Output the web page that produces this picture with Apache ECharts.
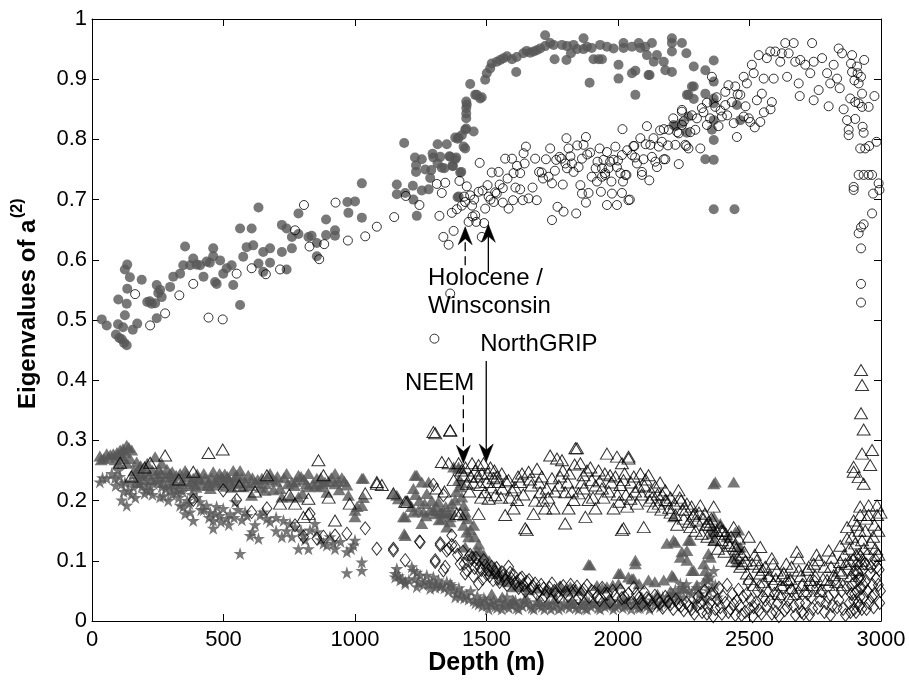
<!DOCTYPE html>
<html>
<head>
<meta charset="utf-8">
<script src="https://cdn.jsdelivr.net/npm/echarts@6/dist/echarts.min.js"></script>
<style>
html,body{margin:0;padding:0;background:#fff;}
#chart{width:909px;height:682px;}
</style>
</head>
<body>
<div id="chart"></div>
<script>
// ---------- tick labels ----------
const xTicks = [0, 500, 1000, 1500, 2000, 2500, 3000];
const yTicks = ['0','0.1','0.2','0.3','0.4','0.5','0.6','0.7','0.8','0.9','1'];

// ---------- NEEM largest eigenvalue (filled circles) [depth, value] ----------
const neemMax = [
[37,.501],[56,.491],[91,.476],[104,.470],[113,.468],[122,.462],[132,.458],[99,.493],[118,.488],[155,.484],[172,.494],[125,.508],[132,.527],[100,.534],[134,.552],[144,.571],[125,.584],[134,.592],[189,.567],[210,.530],[227,.527],[246,.558],[259,.550],[265,.538],[240,.528],[220,.531],[246,.503],[252,.545],[297,.555],[309,.572],[335,.577],[347,.591],[354,.622],[373,.591],[385,.602],[398,.592],[411,.591],[424,.572],[436,.597],[448,.595],[461,.619],[461,.606],[468,.563],[474,.560],[487,.599],[499,.577],[512,.586],[531,.591],[537,.558],[563,.652],[563,.525],[575,.605],[588,.621],[607,.652],[613,.624],[633,.687],[633,.594],[651,.613],[651,.580],[677,.619],[677,.595],[722,.658],[740,.652],[722,.613],[740,.584],[760,.638],[760,.619],[785,.677],[785,.643],[823,.638],[835,.640],[855,.628],[855,.606],[890,.667],[890,.641],[924,.649],[924,.640],[975,.678],[971,.696],[1000,.697],[1026,.670],[1026,.727],
[1159,.725],[1159,.709],[1187,.794],[1191,.711],[1220,.723],[1222,.700],[1235,.673],[1228,.770],[1232,.757],[1232,.746],[1254,.767],[1254,.715],[1267,.750],[1280,.717],[1286,.736],[1295,.776],[1298,.770],[1290,.749],[1314,.760],[1324,.771],[1314,.792],[1330,.753],[1340,.752],[1362,.771],[1371,.756],[1381,.767],[1390,.801],[1390,.704],[1400,.745],[1349,.792],[1359,.772],[1372,.756],[1385,.770],[1394,.705],[1404,.746],[1419,.785],[1394,.803],[1406,.807],[1419,.816],[1423,.835],[1423,.843],[1423,.852],[1423,.863],[1425,.858],[1413,.788],[1451,.813],[1423,.818],[1381,.803],
[1438,.892],[1457,.874],[1463,.874],[1482,.870],[1476,.868],[1495,.899],[1501,.910],[1514,.918],[1520,.926],[1539,.929],[1552,.932],[1565,.935],[1578,.938],[1597,.933],[1613,.912],[1615,.937],[1640,.943],[1653,.947],[1666,.944],[1679,.946],[1691,.948],[1704,.951],[1723,.973],[1723,.955],[1742,.960],[1755,.957],[1759,.933],[1787,.957],[1806,.955],[1804,.932],[1821,.943],[1831,.957],[1844,.950],[1869,.968],[1869,.950],[1892,.894],[1882,.954],[1907,.933],[1900,.952],[1926,.933],[1932,.957],[1958,.954],[1939,.933],[1983,.951],[2021,.960],[2021,.952],[2053,.954],[2002,.924],[2002,.901],[2053,.910],[2066,.874],[2066,.914],[2079,.960],[2085,.952],[2110,.940],[2104,.954],[2129,.960],[2116,.907],[2120,.907],[2136,.929],[2148,.940],[2174,.929],[2180,.915],[2205,.912],[2205,.968],[2205,.960],[2205,.946],[2243,.960],[2260,.943],[2288,.921],[2268,.874],[2262,.874],[2281,.888],[2288,.888],[2288,.867],[2332,.915],[2332,.876],[2364,.931],[2364,.896],[2364,.868],[2364,.860],[2268,.838],[2243,.827],[2218,.822],[2211,.824],[2262,.811],[2357,.816],[2364,.832],[2364,.799],[2332,.767],[2364,.766],[2364,.684],[2443,.684],[2452,.857],[2465,.832]
];

// ---------- NorthGRIP largest eigenvalue (open circles) ----------
const ngripMax = [
[164,.543],[221,.491],[278,.511],[332,.541],[385,.560],[443,.504],[497,.501],[550,.577],[607,.586],[661,.576],[715,.584],[772,.649],[806,.691],[827,.622],[864,.601],[883,.626],[926,.695],[973,.632],[1039,.639],[1083,.655],[1149,.671],[1193,.706],[1245,.691],[1302,.469],[1362,.544],
[1311,.726],[1321,.673],[1330,.711],[1336,.638],[1343,.728],[1356,.625],[1368,.678],[1375,.648],[1387,.684],[1397,.731],[1406,.690],[1419,.696],[1425,.722],[1432,.663],[1438,.707],[1447,.672],[1453,.700],[1457,.674],[1461,.663],[1470,.713],[1474,.761],[1482,.638],[1491,.661],[1495,.685],[1504,.724],[1508,.705],[1520,.745],[1527,.696],[1533,.712],[1539,.710],[1546,.746],[1562,.719],[1562,.695],[1571,.768],[1584,.685],[1597,.768],[1603,.744],[1601,.699],[1616,.756],[1628,.744],[1628,.717],[1641,.777],[1650,.788],[1638,.699],[1660,.702],[1685,.768],[1691,.699],[1700,.746],[1710,.745],[1726,.767],[1736,.738],[1742,.785],[1749,.727],[1749,.666],[1765,.766],[1770,.688],[1778,.771],[1785,.768],[1793,.680],[1800,.760],[1804,.802],[1806,.752],[1812,.785],[1819,.772],[1831,.746],[1841,.677],[1850,.754],[1857,.724],[1863,.710],[1863,.768],[1869,.791],[1878,.804],[1878,.695],[1883,.775],[1888,.711],[1894,.778],[1900,.738],[1920,.730],[1922,.763],[1935,.713],[1939,.752],[1939,.738],[1945,.766],[1951,.741],[1951,.744],[1958,.691],[1958,.779],[1964,.752],[1970,.763],[1977,.710],[1983,.766],[1990,.788],[1996,.754],[1996,.691],[2009,.744],[2015,.774],[2015,.711],[2017,.817],[2019,.730],[2028,.741],[2032,.741],[2040,.699],[2045,.700],[2053,.774],[2059,.789],[2062,.789],[2072,.760],[2085,.802],[2091,.746],[2091,.741],[2097,.767],[2110,.822],[2119,.732],[2123,.791],[2129,.771],[2142,.763],[2148,.754],[2155,.788],[2167,.796],[2174,.767],[2174,.817],[2180,.767],[2193,.816],[2218,.791],[2231,.759],[2231,.810],[2243,.849],[2243,.824],[2243,.846],[2256,.791],[2260,.789],[2268,.785],[2281,.840],[2294,.816],[2313,.785],[2319,.852],[2338,.824],[2338,.861],[2357,.904],[2370,.854],[2382,.822],[2395,.838],[2408,.857],[2408,.879],[2420,.890],[2433,.862],[2440,.827],[2446,.888],[2452,.804],[2465,.874],[2478,.904],[2478,.838],[2490,.893],[2497,.835],[2503,.829],[2509,.924],[2516,.910],[2520,.820],[2528,.865],[2535,.940],[2541,.829],[2547,.876],[2554,.901],[2555,.845],[2566,.935],[2579,.946],[2580,.850],[2585,.862],[2592,.901],[2598,.946],[2617,.929],[2623,.943],[2636,.960],[2643,.904],[2649,.943],[2668,.960],[2674,.929],[2687,.893],[2691,.872],[2693,.932],[2712,.924],[2731,.910],[2738,.960],[2744,.929],[2744,.865],[2763,.882],[2776,.935],[2795,.910],[2801,.855],[2807,.893],[2820,.924],[2833,.901],[2839,.951],[2843,.885],[2852,.943],[2858,.850],[2871,.832],[2877,.816],[2877,.807],[2883,.868],[2886,.926],[2890,.940],[2890,.912],[2899,.898],[2902,.862],[2902,.834],[2909,.921],[2911,.910],[2915,.893],[2915,.860],[2921,.785],[2924,.904],[2928,.876],[2928,.854],[2930,.821],[2934,.811],[2936,.932],[2940,.785],[2953,.854],[2955,.789],[2975,.872],[2983,.796],[2896,.721],[2896,.716],[2915,.741],[2934,.741],[2953,.741],[2966,.741],[2970,.710],[2991,.727],[2994,.716],[2966,.677],[2934,.659],[2924,.654],[2915,.644],[2924,.619],[2924,.560],[2924,.529],
[1415,.705],[1445,.690],[1485,.715],[1515,.700],[1550,.725],[1580,.735],[1610,.720],[1645,.760],[1675,.720],[1715,.735],[1760,.748],[1790,.725],[1825,.760],[1845,.790],[1915,.752],[1930,.785],[1975,.730],[2000,.765],[2035,.782],[2065,.770],[2105,.792],[2135,.802],[2160,.815],[2190,.790],[2210,.835],[2225,.812],[2250,.830],[2275,.812],[2300,.835],[2325,.845],[2350,.835],[2375,.870],[2390,.848],[2415,.840],[2455,.875],[2485,.855]
];

// ---------- NEEM middle eigenvalue (filled triangles) ----------
const neemMid = [
[30,.274],[45,.270],[56,.278],[70,.276],[81,.278],[95,.280],[107,.284],[118,.286],[132,.292],[140,.288],[151,.284],[100,.262],[132,.262],[120,.270],[170,.264],[185,.258],[202,.253],[240,.273],[214,.242],[265,.262],[246,.245],[255,.252],[280,.240],[297,.245],[297,.228],[315,.232],[335,.245],[354,.250],[365,.240],[385,.237],[400,.244],[417,.226],[430,.237],[445,.230],[461,.248],[474,.226],[493,.239],[505,.244],[520,.236],[537,.250],[550,.242],[563,.250],[544,.239],[575,.223],[594,.242],[607,.209],[620,.230],[646,.237],[658,.217],[677,.245],[700,.232],[715,.220],[722,.206],[740,.245],[760,.231],[753,.206],[785,.242],[785,.206],[805,.235],[823,.245],[823,.223],[840,.228],[855,.237],[867,.223],[886,.231],[893,.214],[924,.245],[924,.228],[950,.238],[969,.226],[975,.209],[1000,.184],[1000,.173],[1008,.190],[1026,.237],[1026,.192],[1032,.237],[1032,.205],
[160,.250],[175,.230],[190,.245],[225,.235],[270,.230],[305,.248],[330,.220],[345,.232],[370,.225],[390,.228],[410,.235],[450,.220],[480,.235],[510,.224],[530,.222],[560,.230],[600,.225],[630,.235],[660,.228],[690,.218],[730,.238],[770,.225],[800,.212],[870,.238],[900,.232],[940,.218],
[35,.268],[62,.272],[88,.268],[110,.275],[125,.280],[145,.270],[165,.245],[180,.255],[195,.235],[210,.262],[230,.250],[250,.238],[262,.245],[285,.252],[300,.238],[320,.242],[340,.228],[360,.245],[378,.232],[395,.222],[405,.238],[425,.245],[440,.225],[455,.238],[468,.232],[485,.245],[498,.230],[515,.240],[525,.232],[545,.228],[570,.238],[585,.230],[610,.238],[640,.222],[665,.238],[685,.235],[705,.240],[745,.228],[775,.232],[795,.240],[815,.228],[850,.225],[875,.228],[910,.238],[935,.232],[960,.232],
[1146,.212],[1159,.209],[1165,.203],[1184,.173],[1191,.173],[1187,.145],[1191,.142],[1222,.220],[1228,.242],[1222,.181],[1235,.242],[1241,.184],[1254,.231],[1254,.162],[1260,.181],[1273,.212],[1280,.231],[1286,.184],[1298,.184],[1305,.178],[1317,.198],[1324,.181],[1330,.181],[1330,.170],[1340,.180],[1349,.156],[1362,.173],[1362,.165],[1368,.195],[1375,.256],[1381,.201],[1394,.253],[1394,.256],[1400,.223],[1406,.206],[1413,.192],[1419,.181],[1413,.159],[1425,.148],[1432,.140],[1419,.123],[1451,.159],[1444,.109],[1463,.117],[1476,.115],[1482,.101],[1501,.095],[1514,.084],[1539,.079],[1558,.068],[1584,.065],[1603,.057],[1620,.060],[1641,.057],[1660,.052],[1690,.055],[1729,.051],[1750,.048],[1780,.057],[1800,.050],[1819,.057],[1840,.053],[1857,.051],[1888,.094],[1894,.093],[1920,.059],[1940,.055],[1958,.057],[1980,.060],[2002,.079],[2002,.062],[2009,.079],[2040,.073],[2059,.070],[2053,.070],[2066,.095],[2066,.101],[2080,.062],[2116,.068],[2140,.065],[2174,.068],[2205,.076],[2211,.073],[2211,.134],[2211,.173],[2186,.129],[2218,.131],[2237,.106],[2243,.115],[2262,.117],[2262,.101],[2268,.134],[2275,.134],[2281,.084],[2288,.084],[2326,.095],[2332,.084],[2338,.073],[2344,.112],[2351,.106],[2357,.145],[2357,.156],[2364,.173],[2364,.151],[2364,.134],[2364,.228],[2370,.231],[2389,.162],[2414,.140],[2440,.106],[2440,.231],[2446,.148],[2459,.151],[2459,.123],[2452,.098],[2465,.123],
[1200,.200],[1215,.190],[1230,.210],[1245,.200],[1265,.195],[1270,.175],[1292,.200],[1310,.190],[1320,.168],[1345,.190],[1355,.178],[1370,.182],[1385,.215],[1395,.235],[1405,.230],[1410,.175],[1428,.170],[1438,.152],[1455,.140],[1470,.128],[1490,.110],[1510,.100],[1530,.090],[1550,.082],[1570,.075],[1590,.070],
[1520,.045],[1560,.040],[1600,.035],[1650,.038],[1700,.033],[1760,.036],[1820,.030],[1880,.034],[1950,.032],[2020,.036],[2090,.040],[2150,.045],[2200,.050],[2250,.055],[2300,.060]
];

// ---------- NorthGRIP middle eigenvalue (open triangles) ----------
const ngripMid = [
[107,.263],[221,.263],[278,.275],[385,.248],[443,.279],[497,.285],[665,.242],[715,.195],[772,.195],[804,.173],[823,.178],[823,.203],[861,.267],[880,.242],[924,.167],[1039,.212],[1083,.231],[1083,.228],[1102,.226],[1146,.212],[1191,.198],[1197,.198],[150,.240],[200,.255],[330,.235],[560,.225],[620,.215],[750,.210],[900,.205],[980,.195],
[1298,.314],[1305,.312],[1362,.317],[1362,.316],[1330,.264],[1356,.262],[1375,.234],[1387,.178],[1400,.178],[1310,.220],[1340,.215],
[1394,.262],[1413,.242],[1425,.228],[1440,.240],[1457,.250],[1470,.259],[1476,.226],[1482,.245],[1489,.262],[1495,.214],[1501,.231],[1508,.203],[1470,.178],[1515,.255],[1527,.237],[1533,.209],[1546,.231],[1558,.245],[1571,.176],[1584,.234],[1597,.217],[1603,.187],[1616,.201],[1628,.231],[1635,.245],[1647,.154],[1653,.151],[1660,.248],[1670,.225],[1679,.178],[1692,.253],[1704,.214],[1723,.187],[1729,.220],[1742,.275],[1749,.237],[1755,.187],[1768,.270],[1780,.240],[1787,.267],[1799,.214],[1799,.162],[1812,.187],[1831,.201],[1838,.287],[1844,.287],[1850,.212],[1857,.262],[1869,.242],[1876,.173],[1882,.250],[1888,.201],[1900,.234],[1914,.187],[1926,.250],[1939,.220],[1950,.245],[1958,.278],[1970,.242],[1983,.187],[1996,.273],[2009,.226],[2015,.262],[2015,.151],[2021,.154],[2021,.234],[2030,.210],[2040,.273],[2040,.270],[2047,.203],[2060,.240],[2072,.195],[2079,.223],[2090,.210],[2098,.156],[2116,.242],[2130,.205],[2142,.223],[2155,.195],[2168,.210],[2180,.217],[2180,.201],[2195,.188],[2218,.176],[2230,.217],[2245,.185],[2262,.195],[2275,.156],[2290,.178],[2300,.167],[2313,.192],[2325,.170],[2344,.165],[2364,.190],[2375,.150],[2389,.156],[2395,.134],[2410,.145],[2425,.125],[2440,.156],[2459,.137],[2470,.110],[2490,.079],[2497,.140],[2510,.095],[2528,.101],[2541,.123],[2541,.079],[2560,.090],[2585,.104],[2604,.084],[2620,.060],[2643,.068],[2660,.055],[2687,.104],[2687,.084],[2700,.060],[2731,.068],[2744,.095],[2763,.101],[2780,.070],[2795,.068],[2801,.117],[2820,.076],[2839,.084],[2845,.098],[2860,.110],[2871,.156],[2871,.137],[2880,.120],[2896,.167],[2896,.256],[2896,.248],[2902,.129],[2915,.239],[2921,.190],[2921,.176],[2924,.417],[2928,.392],[2924,.345],[2928,.278],[2928,.134],[2934,.318],[2934,.228],[2940,.150],[2953,.192],[2953,.176],[2959,.259],[2966,.284],[2978,.120],[2985,.192],[2985,.176],[2990,.150],
[1420,.255],[1450,.230],[1530,.250],[1560,.220],[1590,.205],[1620,.240],[1700,.230],[1715,.200],[1760,.215],[1815,.245],[1870,.220],[1905,.205],[1930,.232],[1965,.215],[1990,.240],[2005,.198],[2050,.230],[2100,.225],[2120,.200],[2160,.230],[2200,.205],[2240,.200],[2280,.190],[2330,.178],[2350,.160],[2400,.150],[2430,.140],[2450,.120],[2480,.115],[2520,.110],[2550,.085],[2575,.075],[2600,.070],[2630,.080],[2660,.090],[2720,.085],[2750,.075],[2810,.090],[2850,.080],[2880,.100],[2910,.160],[2945,.170],[2970,.140],
[2455,.105],[2475,.095],[2500,.070],[2515,.060],[2535,.090],[2555,.065],[2570,.050],[2590,.095],[2610,.045],[2625,.075],[2640,.095],[2655,.070],[2670,.045],[2680,.115],[2695,.075],[2710,.050],[2725,.090],[2740,.060],[2755,.110],[2770,.050],[2785,.090],[2800,.060],[2815,.105],[2830,.065],[2845,.125],[2855,.060],[2865,.095],[2885,.075],[2890,.140],[2905,.110],[2910,.085],[2918,.150],[2925,.100],[2935,.120],[2945,.095],[2960,.130],[2975,.160],[2990,.110],[2998,.180],
[2105,.235],[2125,.215],[2135,.190],[2150,.210],[2165,.185],[2185,.200],[2200,.180],[2215,.195],[2225,.160],[2235,.205],[2250,.170],[2258,.185],[2270,.165],[2285,.175],[2295,.150],[2308,.180],[2318,.145],[2335,.160],[2340,.140],[2355,.170],[2368,.135],[2380,.120],[2393,.150],[2405,.115],[2418,.130],[2435,.100],[2445,.125],[2465,.090],[2485,.100],
[1405,.250],[1435,.215],[1445,.262],[1465,.240],[1480,.205],[1505,.245],[1520,.222],[1540,.240],[1555,.205],[1575,.232],[1608,.222],[1640,.210],[1665,.235],[1685,.200],[1710,.240],[1735,.205],[1775,.225],[1790,.250],[1808,.230],[1825,.215],[1835,.260],[1862,.230],[1895,.255],[1915,.225],[1945,.205],[1975,.230],[1998,.210],[2025,.245],[2035,.190],[2065,.215],[2085,.245]
];

// ---------- NEEM smallest eigenvalue (filled stars) ----------
const neemMin = [
[30,.231],[40,.238],[56,.237],[75,.245],[87,.237],[100,.250],[113,.228],[113,.201],[120,.215],[132,.192],[138,.217],[145,.232],[157,.223],[170,.236],[189,.223],[200,.212],[214,.226],[221,.217],[235,.228],[259,.206],[265,.223],[280,.220],[297,.217],[310,.225],[322,.214],[335,.192],[347,.190],[354,.178],[362,.200],[373,.181],[385,.167],[398,.205],[411,.198],[425,.185],[436,.192],[450,.180],[461,.167],[461,.154],[474,.190],[486,.175],[499,.187],[512,.170],[525,.178],[544,.198],[555,.185],[563,.112],[582,.181],[601,.142],[610,.148],[633,.137],[639,.176],[651,.181],[665,.170],[677,.165],[700,.172],[722,.140],[728,.167],[753,.162],[772,.156],[785,.120],[795,.150],[804,.142],[823,.120],[829,.151],[848,.162],[855,.148],[870,.135],[880,.129],[893,.126],[905,.140],[918,.129],[924,.120],[945,.132],[969,.115],[969,.080],[985,.120],[994,.126],[1000,.134],[1026,.098],[1026,.084],
[90,.225],[105,.240],[125,.230],[150,.210],[165,.205],[180,.228],[195,.240],[208,.218],[230,.210],[250,.232],[272,.208],[290,.200],[305,.210],[330,.205],[345,.215],[370,.195],[380,.210],[415,.185],[445,.172],[470,.178],[490,.165],[520,.160],[540,.172],[570,.168],[590,.175],[620,.160],[700,.150],[740,.150],[760,.140],[810,.135],
[1153,.079],[1159,.087],[1153,.073],[1172,.068],[1191,.065],[1191,.062],[1216,.090],[1222,.084],[1235,.081],[1235,.057],[1248,.076],[1260,.060],[1273,.076],[1286,.054],[1298,.073],[1310,.060],[1317,.068],[1324,.057],[1349,.065],[1362,.062],[1368,.059],[1381,.040],[1387,.045],[1395,.055],[1406,.048],[1425,.043],[1440,.050],[1451,.034],[1465,.042],[1476,.032],[1490,.038],[1501,.026],[1515,.030],[1527,.034],[1540,.022],[1552,.032],[1565,.025],[1578,.040],[1590,.028],[1603,.032],[1615,.022],[1628,.029],[1645,.035],[1666,.026],[1680,.020],[1691,.032],[1710,.024],[1729,.029],[1745,.020],[1765,.030],[1785,.023],[1806,.026],[1825,.033],[1840,.022],[1857,.029],[1875,.021],[1890,.031],[1907,.029],[1925,.022],[1940,.030],[1958,.026],[1975,.034],[1990,.024],[2009,.032],[2025,.025],[2040,.035],[2059,.029],[2075,.022],[2090,.030],[2110,.025],[2130,.035],[2150,.028],[2170,.040],[2190,.030],[2210,.045],[2225,.035],[2237,.062],[2250,.040],[2270,.050],[2290,.030],[2310,.045],[2326,.062],[2335,.035],[2345,.050],[2351,.073],[2364,.084],[2370,.060],[2378,.040],
[1165,.075],[1180,.070],[1205,.068],[1228,.070],[1242,.064],[1265,.066],[1280,.062],[1292,.064],[1305,.056],[1330,.060],[1340,.055],[1355,.050],[1375,.052],[1400,.040],[1415,.038],[1432,.036],[1458,.030],[1470,.028],[1484,.025],[1495,.034],[1508,.020],[1520,.028],[1534,.025],[1558,.020],[1572,.030],[1585,.022],[1597,.027],[1610,.034],[1622,.020],[1637,.025],[1652,.030],[1672,.022],[1700,.026],[1720,.020],[1738,.028],[1755,.024],[1775,.020],[1795,.030],[1815,.022],[1832,.028],[1850,.020],[1866,.026],[1882,.020],[1898,.024],[1915,.030],[1932,.020],[1950,.024],[1967,.028],[1982,.020],[2000,.026],[2018,.022],[2033,.028],[2050,.020],[2067,.030],[2083,.022],[2100,.028],[2120,.020],[2140,.030],[2160,.024],[2180,.032],[2200,.040],[2218,.052],[2230,.045],[2245,.055],[2260,.062],[2280,.045],[2300,.055],[2318,.040],[2340,.068],[2358,.055]
];

// ---------- NorthGRIP smallest eigenvalue (open diamonds) ----------
const ngripMin = [
[385,.201],[499,.217],[550,.201],[607,.181],[665,.187],[772,.159],[804,.140],[829,.178],[855,.137],[880,.140],[924,.142],[969,.145],[1039,.154],[1083,.120],[1146,.120],[1146,.117],[1191,.101],[1245,.132],[1248,.131],[1298,.226],[1305,.101],[1305,.098],[1324,.129],[1324,.126],[1336,.209],[1336,.084],[1343,.090],[1349,.117],[1356,.120],[1368,.126],[1368,.142],[1381,.123],[1390,.110],[1400,.095],[1410,.115],[1419,.079],[1430,.100],[1444,.104],[1455,.088],[1463,.095],[1470,.062],[1480,.085],[1489,.101],[1500,.078],[1508,.084],[1520,.090],[1533,.081],[1545,.072],[1558,.081],[1570,.068],[1584,.090],[1595,.070],[1603,.076],[1615,.065],[1628,.070],[1640,.060],[1654,.065],[1670,.055],[1685,.062],[1700,.050],[1717,.054],[1730,.048],[1749,.062],[1765,.045],[1780,.055],[1800,.048],[1820,.060],[1844,.057],[1860,.045],[1882,.059],[1900,.050],[1920,.040],[1940,.055],[1960,.045],[1980,.050],[2009,.051],[2025,.040],[2040,.045],[2060,.055],[2080,.038],[2100,.048],[2120,.035],[2140,.042],[2160,.030],[2180,.040],[2200,.028],[2220,.035],[2240,.025],[2260,.030],[2280,.020],[2300,.025],[2320,.015],[2338,.012],[2350,.030],[2370,.020],[2389,.023],[2400,.040],[2420,.015],[2440,.028],[2452,.034],[2470,.010],[2490,.045],[2500,.020],[2516,.023],[2530,.050],[2545,.012],[2560,.035],[2579,.034],[2590,.060],[2600,.015],[2620,.040],[2643,.023],[2660,.050],[2675,.010],[2690,.030],[2706,.012],[2720,.045],[2740,.020],[2755,.055],[2769,.034],[2785,.015],[2800,.040],[2815,.025],[2833,.023],[2850,.050],[2865,.010],[2880,.030],[2890,.060],[2896,.034],[2896,.079],[2900,.045],[2905,.015],[2910,.095],[2915,.070],[2918,.025],[2921,.106],[2925,.055],[2930,.085],[2935,.040],[2940,.065],[2945,.020],[2950,.110],[2959,.079],[2965,.040],[2972,.023],[2978,.101],[2985,.090],[2990,.060],[2995,.030],
[2305,.040],[2315,.030],[2330,.050],[2342,.022],[2355,.045],[2362,.008],[2378,.035],[2384,.055],[2395,.012],[2408,.030],[2415,.060],[2428,.020],[2435,.045],[2446,.010],[2458,.052],[2463,.025],[2476,.040],[2483,.015],[2496,.065],[2505,.035],[2512,.008],[2522,.030],[2536,.018],[2540,.058],[2552,.040],[2566,.025],[2572,.070],[2585,.012],[2595,.045],[2607,.030],[2612,.008],[2626,.055],[2634,.018],[2650,.035],[2655,.065],[2668,.025],[2682,.045],[2698,.015],[2702,.060],[2713,.030],[2728,.010],[2735,.040],[2748,.065],[2760,.022],[2774,.050],[2792,.030],[2808,.010],[2822,.048],[2828,.070],[2840,.035],[2856,.020],[2870,.055],[2875,.085],[2884,.015],[2888,.045],[2893,.100],[2898,.020],[2902,.065],[2907,.050],[2912,.030],[2913,.080],[2917,.110],[2920,.040],[2923,.070],[2927,.020],[2932,.060],[2938,.095],[2948,.050],[2955,.030],[2962,.090],[2968,.060],[2975,.045],[2982,.070],[2988,.110],[2993,.085],[2998,.050],
[1415,.095],[1425,.085],[1438,.110],[1450,.075],[1460,.105],[1475,.090],[1485,.070],[1495,.092],[1512,.075],[1525,.068],[1538,.088],[1550,.065],[1563,.075],[1578,.060],[1590,.080],[1608,.062],[1622,.055],[1635,.072],[1648,.050],[1662,.068],[1676,.058],[1692,.045],[1708,.060],[1722,.042],[1740,.055],[1758,.050],[1772,.040],[1792,.058],[1810,.042],[1830,.050],[1850,.038],[1870,.052],[1890,.040],[1910,.048],[1930,.035],[1950,.045],[1970,.032],[1990,.042],[2015,.038],[2050,.030],[2070,.045],[2090,.028],[2110,.038],[2130,.025],[2150,.035],[2170,.022],[2190,.032],[2210,.020],[2230,.028],[2250,.018],[2270,.025],[2290,.012]
];

// ---------- chart ----------
const GRAY = '#565656';
const FONT = '"Liberation Sans", Arial, Helvetica, sans-serif';
const STAR = 'path://M50,0 L61.2,34.5 L97.6,34.5 L68.2,55.9 L79.4,90.5 L50,69.1 L20.6,90.5 L31.8,55.9 L2.4,34.5 L38.8,34.5 Z';

const chart = echarts.init(document.getElementById('chart'), null, {renderer: 'canvas'});

const axisLineStyle = {color: '#000', width: 1};
const baseX = {
  type: 'value', min: xTicks[0], max: xTicks[xTicks.length - 1], interval: 500,
  splitLine: {show: false},
  axisLine: {show: true, onZero: false, lineStyle: axisLineStyle},
  axisTick: {show: true, inside: true, length: 7, lineStyle: axisLineStyle}
};
const baseY = {
  type: 'value', min: 0, max: 1, interval: 0.1,
  splitLine: {show: false},
  axisLine: {show: true, onZero: false, lineStyle: axisLineStyle},
  axisTick: {show: true, inside: true, length: 7, lineStyle: axisLineStyle}
};

function openStyle() {
  return {color: 'rgba(0,0,0,0)', borderColor: '#000', borderWidth: 1};
}

chart.setOption({
  animation: false,
  backgroundColor: '#fff',
  grid: {left: 92, right: 28, top: 19, bottom: 61, containLabel: false},
  xAxis: [
    Object.assign({}, baseX, {position: 'bottom',
      axisLabel: {show: true, margin: 8, color: '#000', fontSize: 22, fontFamily: FONT,
        formatter: v => String(v)}}),
    Object.assign({}, baseX, {position: 'top', axisLabel: {show: false}})
  ],
  yAxis: [
    Object.assign({}, baseY, {position: 'left',
      axisLabel: {show: true, margin: 5, color: '#000', fontSize: 22, fontFamily: FONT,
        formatter: v => yTicks[Math.round(v * 10)]}}),
    Object.assign({}, baseY, {position: 'right', axisLabel: {show: false}})
  ],
  series: [
    {name: 'NEEM smallest', type: 'scatter', data: neemMin, symbol: STAR, symbolSize: 13,
     itemStyle: {color: GRAY}, silent: true},
    {name: 'NEEM middle', type: 'scatter', data: neemMid, symbol: 'triangle', symbolSize: [13, 11],
     itemStyle: {color: GRAY}, silent: true},
    {name: 'NEEM largest', type: 'scatter', data: neemMax, symbol: 'circle', symbolSize: 10,
     itemStyle: {color: GRAY}, silent: true},
    {name: 'NorthGRIP largest', type: 'scatter', data: ngripMax, symbol: 'circle', symbolSize: 9,
     itemStyle: openStyle(), silent: true},
    {name: 'NorthGRIP middle', type: 'scatter', data: ngripMid, symbol: 'triangle', symbolSize: [13, 11],
     itemStyle: openStyle(), silent: true},
    {name: 'NorthGRIP smallest', type: 'scatter', data: ngripMin, symbol: 'diamond', symbolSize: [10, 13],
     itemStyle: openStyle(), silent: true}
  ]
});

// ---------- annotations (positioned from data coordinates) ----------
function px(d, v) { return chart.convertToPixel({gridIndex: 0}, [d, v]); }

function arrow(fromD, fromV, toD, toV, dashed) {
  const a = px(fromD, fromV), b = px(toD, toV);
  const dir = b[1] > a[1] ? 1 : -1; // 1 = pointing down
  const headLen = 18, headHalf = 7, notch = 12;
  return [
    {type: 'line', silent: true, z: 100,
     shape: {x1: a[0], y1: a[1], x2: b[0], y2: b[1] - dir * notch},
     style: {stroke: '#000', lineWidth: 1.3, lineDash: dashed ? [9, 5] : null}},
    {type: 'polygon', silent: true, z: 100,
     shape: {points: [[b[0], b[1]], [b[0] - headHalf, b[1] - dir * headLen],
                      [b[0], b[1] - dir * notch], [b[0] + headHalf, b[1] - dir * headLen]]},
     style: {fill: '#000', stroke: '#000', lineWidth: 0.5}}
  ];
}

function label(text, d, v) {
  const p = px(d, v);
  return {type: 'text', silent: true, z: 100, x: p[0], y: p[1],
    style: {text: text, fill: '#000', font: '24px ' + FONT, textAlign: 'left', textVerticalAlign: 'middle'}};
}

const g = [];
g.push(label('NEEM', 1190, 0.395));
g.push(label('NorthGRIP', 1476, 0.459));
g.push(label('Holocene /', 1278, 0.569));
g.push(label('Winsconsin', 1278, 0.522));
g.push(...arrow(1412, 0.375, 1412, 0.262, true));
g.push(...arrow(1499, 0.432, 1499, 0.264, false));
g.push(...arrow(1419, 0.591, 1419, 0.655, true));
g.push(...arrow(1507, 0.578, 1507, 0.659, false));

// axis titles
const grid0 = px(1500, 0);
g.push({type: 'text', silent: true, z: 100, x: grid0[0], y: 663,
  style: {text: 'Depth (m)', fill: '#000', font: 'bold 25px ' + FONT, textAlign: 'center', textVerticalAlign: 'middle'}});
g.push({type: 'group', silent: true, x: 37, y: 409, rotation: Math.PI / 2, children: [
  {type: 'text', x: 0, y: -9,
   style: {text: 'Eigenvalues of a', fill: '#000', font: 'bold 24px ' + FONT, textAlign: 'left', textVerticalAlign: 'middle'}},
  {type: 'text', x: 191, y: -19,
   style: {text: '(2)', fill: '#000', font: 'bold 16px ' + FONT, textAlign: 'left', textVerticalAlign: 'middle'}}
]});

chart.setOption({graphic: g});
</script>
</body>
</html>
